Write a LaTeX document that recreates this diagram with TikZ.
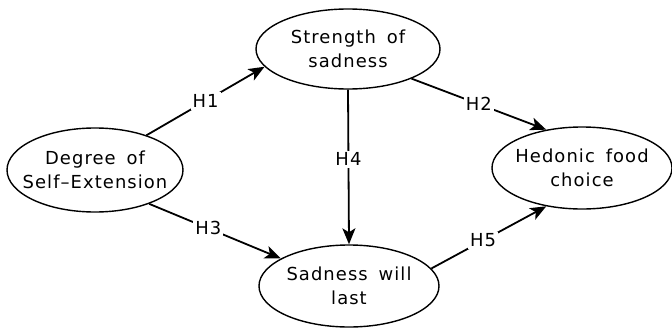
\documentclass[tikz,border=0pt]{standalone}
\usepackage{fontspec}
\setmainfont{DejaVu Sans}[LetterSpace=6,WordSpace=1.6]
\usetikzlibrary{shapes.geometric,arrows.meta}
\begin{document}
\begin{tikzpicture}[x=1bp,y=1bp,
  ell/.style={draw, ellipse, line width=1.4bp, minimum width=180bp, minimum height=82bp, inner sep=0pt},
  txt/.style={align=center, font=\fontsize{18}{24}\selectfont},
  arr/.style={line width=1.8bp, -{Stealth[length=16bp,width=13bp,inset=4bp]}},
  lab/.style={fill=white, inner sep=2bp, font=\fontsize{18}{22}\selectfont}]
\useasboundingbox (0,0) rectangle (672,328);
\node[ell, minimum width=176bp, minimum height=84bp, label={[txt]center:Degree of\\Self--Extension}] (deg) at (95,158) {};
\node[ell, minimum width=184bp, minimum height=80bp, label={[txt]center:Strength of\\sadness}] (str) at (348,279) {};
\node[ell, label={[txt]center:Sadness will\\last}] (sad) at (349,42) {};
\node[ell, label={[txt]center:Hedonic food\\choice}] (hed) at (582,160) {};
\draw[arr] (deg.34) -- node[lab, pos=0.5] {H1} (str.192);
\draw[arr] (str.335) -- node[lab, pos=0.5] {H2} (hed.133);
\draw[arr] (deg.328) -- node[lab, pos=0.45] {H3} (sad.158);
\draw[arr] (str.south) -- node[lab, pos=0.45] {H4} (sad.north);
\draw[arr] (sad.12) -- node[lab, pos=0.45] {H5} (hed.227);
\end{tikzpicture}
\end{document}
